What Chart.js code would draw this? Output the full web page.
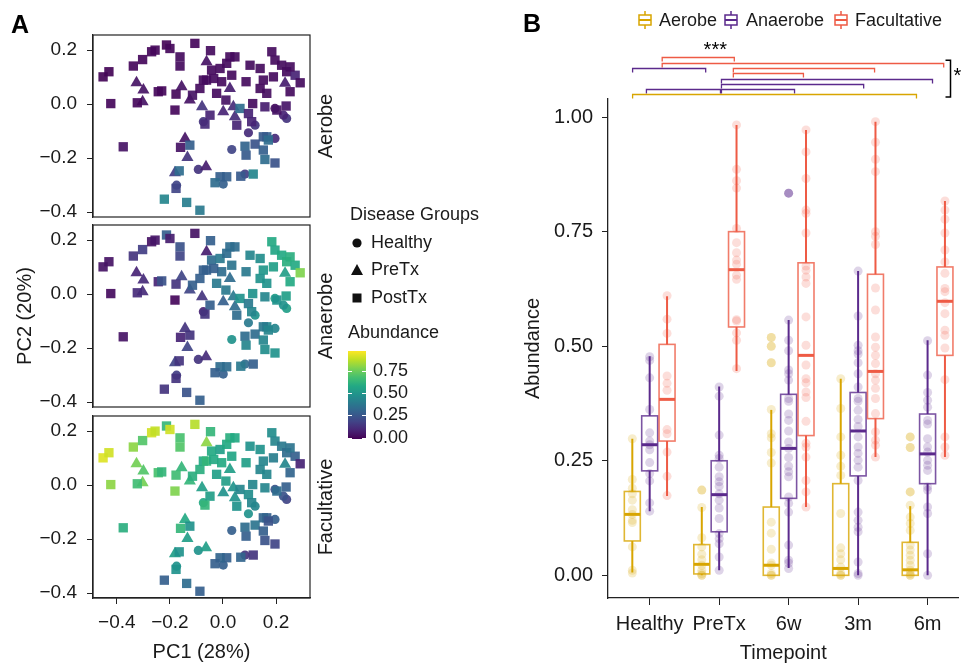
<!DOCTYPE html>
<html>
<head>
<meta charset="utf-8">
<script src="https://cdn.jsdelivr.net/npm/chart.js@4.4.1/dist/chart.umd.min.js"></script>
<style>
  html, body { margin: 0; padding: 0; background: #fff; }
  #wrap { position: relative; width: 963px; height: 666px; overflow: hidden; background: #fff; }
  canvas { position: absolute; }
</style>
</head>
<body>
<div id="wrap">
  <canvas id="facet1" width="520" height="240" style="left:0;top:0"></canvas>
  <canvas id="facet2" width="520" height="270" style="left:0;top:190px"></canvas>
  <canvas id="facet3" width="520" height="286" style="left:0;top:380px"></canvas>
  <canvas id="panelB" width="443" height="666" style="left:520px;top:0"></canvas>
</div>
<script>
// ---- panel A data: PCA coordinates, disease group, per-type abundance ----
const pcaX = [-0.452,-0.43,-0.423,-0.376,-0.338,-0.326,-0.303,-0.323,-0.303,-0.30,
  -0.269,-0.256,-0.244,-0.231,-0.213,-0.2,-0.177,-0.181,-0.162,-0.162,
  -0.156,-0.125,-0.115,-0.106,-0.062,-0.047,-0.087,-0.074,-0.079,-0.049,
  -0.074,-0.068,-0.043,-0.024,-0.011,0.001,0.011,0.014,0.026,0.026,
  0.039,0.045,0.052,0.064,0.033,0.087,0.102,0.096,0.108,0.121,
  0.096,0.112,0.14,0.152,0.158,0.165,0.184,0.196,0.196,0.19,
  0.221,0.234,0.24,0.253,0.238,0.24,0.272,0.291,0.253,0.14,
  0.165,0.152,0.171,0.196,0.121,0.083,0.087,0.033,0.158,0.196,
  0.114,0.083,0.067,0.014,-0.011,-0.03,0.001,-0.125,-0.143,-0.16,
  -0.134,-0.093,-0.064,-0.181,-0.165,-0.175,-0.177,-0.221,-0.137,-0.087,
  -0.005,0.045,0.203,0.228,0.152,-0.062,-0.035];
const pcaY = [0.101,0.12,0.002,-0.158,0.141,0.079,0.165,0.005,0.009,0.052,
  0.194,0.2,0.046,0.049,0.219,0.206,0.037,-0.022,0.175,0.141,
  0.064,0.015,0.033,0.225,0.157,0.198,0.058,0.089,-0.01,-0.041,
  -0.065,-0.074,0.126,0.04,0.132,-0.028,0.015,0.151,0.175,0.058,
  -0.01,-0.047,-0.078,-0.016,0.107,0.083,0.144,-0.035,-0.065,-0.078,
  -0.106,0.002,0.132,0.089,-0.01,0.04,0.194,0.163,-0.016,0.101,
  0.144,0.077,0.12,0.046,-0.007,-0.053,0.107,0.079,0.138,0.058,
  -0.121,-0.121,-0.133,-0.127,-0.148,-0.156,-0.189,-0.168,-0.205,-0.218,
  -0.259,-0.259,-0.267,-0.269,-0.269,-0.291,-0.296,-0.152,-0.127,-0.16,
  -0.198,-0.242,-0.232,-0.254,-0.247,-0.3,-0.312,-0.352,-0.364,-0.393,
  0.083,0.175,-0.022,-0.041,-0.17,0.089,0.095];
const pcaGroup = ['PostTx','PostTx','PostTx','PostTx','PostTx','PreTx','PostTx','PostTx','PreTx','PreTx',
  'PostTx','PostTx','PostTx','PostTx','PostTx','PostTx','PostTx','PostTx','PostTx','PostTx',
  'PreTx','PreTx','PostTx','PostTx','PreTx','PostTx','PostTx','PostTx','PreTx','PostTx',
  'Healthy','PostTx','PostTx','PostTx','PostTx','PreTx','PostTx','PostTx','PostTx','PreTx',
  'PreTx','PreTx','PostTx','PostTx','PostTx','PostTx','PostTx','PostTx','PostTx','Healthy',
  'Healthy','PostTx','PostTx','PostTx','PostTx','PostTx','PostTx','PostTx','Healthy','PostTx',
  'PostTx','PreTx','PostTx','PostTx','PostTx','Healthy','PostTx','PostTx','PostTx','PostTx',
  'PostTx','PostTx','PostTx','Healthy','PostTx','PostTx','PostTx','Healthy','PostTx','PostTx',
  'PostTx','Healthy','PostTx','PostTx','PostTx','PostTx','Healthy','PostTx','PreTx','PostTx',
  'PreTx','Healthy','PreTx','PreTx','PostTx','Healthy','PostTx','PostTx','PostTx','PostTx',
  'PostTx','PostTx','PostTx','Healthy','PostTx','PostTx','PostTx'];
const aerobeAbund = [0.01,0.01,0.02,0.05,0.02,0.05,0.02,0.02,0.05,0.05,
  0.02,0.02,0.02,0.02,0.01,0.02,0.02,0.02,0.03,0.03,
  0.05,0.05,0.05,0.02,0.05,0.03,0.03,0.03,0.15,0.1,
  0.15,0.12,0.03,0.03,0.03,0.1,0.05,0.03,0.03,0.08,
  0.12,0.12,0.1,0.35,0.03,0.03,0.03,0.1,0.1,0.15,
  0.12,0.03,0.03,0.03,0.08,0.04,0.03,0.03,0.04,0.03,
  0.03,0.08,0.03,0.03,0.06,0.15,0.1,0.03,0.03,0.03,
  0.3,0.28,0.35,0.12,0.25,0.32,0.28,0.2,0.35,0.25,
  0.45,0.18,0.28,0.3,0.3,0.35,0.3,0.3,0.05,0.05,
  0.15,0.15,0.08,0.18,0.35,0.2,0.2,0.45,0.42,0.4,
  0.03,0.03,0.05,0.1,0.3,0.03,0.03];
const anaerobeAbund = [0.05,0.05,0.03,0.05,0.15,0.1,0.18,0.12,0.12,0.12,
  0.05,0.06,0.1,0.25,0.3,0.08,0.15,0.02,0.25,0.2,
  0.2,0.2,0.3,0.05,0.08,0.3,0.3,0.3,0.15,0.3,
  0.1,0.15,0.35,0.4,0.4,0.3,0.4,0.35,0.35,0.35,
  0.4,0.35,0.35,0.5,0.38,0.4,0.45,0.4,0.45,0.5,
  0.4,0.5,0.48,0.52,0.45,0.5,0.6,0.58,0.55,0.55,
  0.6,0.55,0.62,0.6,0.55,0.55,0.6,0.8,0.62,0.5,
  0.45,0.4,0.45,0.45,0.35,0.35,0.45,0.5,0.48,0.5,
  0.3,0.35,0.4,0.35,0.35,0.3,0.3,0.15,0.15,0.1,
  0.2,0.15,0.12,0.2,0.15,0.18,0.15,0.15,0.25,0.3,
  0.35,0.35,0.5,0.5,0.45,0.3,0.3];
const facultativeAbund = [0.94,0.92,0.82,0.62,0.82,0.78,0.72,0.68,0.78,0.72,
  0.92,0.9,0.7,0.65,0.65,0.92,0.68,0.8,0.7,0.72,
  0.65,0.65,0.62,0.88,0.82,0.65,0.62,0.6,0.55,0.55,
  0.6,0.65,0.6,0.55,0.55,0.5,0.55,0.6,0.62,0.55,
  0.5,0.5,0.5,0.45,0.58,0.55,0.5,0.48,0.45,0.45,
  0.5,0.45,0.5,0.45,0.45,0.45,0.48,0.45,0.25,0.42,
  0.4,0.45,0.35,0.32,0.3,0.2,0.3,0.1,0.38,0.45,
  0.3,0.32,0.25,0.3,0.38,0.35,0.3,0.3,0.25,0.2,
  0.15,0.15,0.32,0.3,0.32,0.3,0.3,0.5,0.6,0.65,
  0.55,0.5,0.55,0.55,0.5,0.5,0.5,0.3,0.35,0.3,
  0.6,0.6,0.35,0.25,0.3,0.65,0.6];
const pcaTicks = [-0.4, -0.2, 0, 0.2];
const diseaseGroups = ['Healthy', 'PreTx', 'PostTx'];
const abundanceTicks = [0, 0.25, 0.5, 0.75];

// ---- panel B data ----
const timepoints = ['Healthy', 'PreTx', '6w', '3m', '6m'];
const bacteriaTypes = ['Aerobe', 'Anaerobe', 'Facultative'];
// [lower whisker, q1, median, q3, upper whisker] per timepoint
const aerobeStats = [[0.006,0.075,0.133,0.183,0.298],[0,0.003,0.024,0.067,0.149],[0,0,0.022,0.149,0.361],[0,0,0.015,0.2,0.429],[0,0,0.012,0.072,0.151]];
const anaerobeStats = [[0.14,0.228,0.285,0.348,0.478],[0.011,0.095,0.176,0.25,0.412],[0.016,0.168,0.277,0.395,0.557],[0,0.217,0.315,0.399,0.664],[0,0.2,0.265,0.352,0.513]];
const facultativeStats = [[0.173,0.293,0.384,0.504,0.609],[0.446,0.542,0.667,0.75,0.983],[0.149,0.305,0.48,0.682,0.972],[0.258,0.342,0.445,0.657,0.99],[0.258,0.48,0.598,0.673,0.817]];
const aerobePts = [
  [0.298,0.209,0.19,0.178,0.164,0.143,0.133,0.12,0.115,0.062,0.011,0.005],
  [0.186,0.148,0.082,0.062,0.046,0.034,0.022,0.011,0.004,0,0],
  [0.519,0.5,0.464,0.362,0.309,0.3,0.268,0.245,0.116,0.092,0.057,0.027,0.022,0.004,0,0],
  [0.429,0.364,0.302,0.262,0.238,0.218,0.135,0.06,0.047,0.034,0.018,0.004,0,0],
  [0.302,0.279,0.182,0.153,0.127,0.113,0.098,0.066,0.055,0.044,0.033,0.022,0.011,0.004,0,0]];
const anaerobePts = [
  [0.477,0.469,0.431,0.362,0.311,0.293,0.285,0.274,0.246,0.222,0.206,0.158,0.14],
  [0.411,0.391,0.306,0.262,0.255,0.236,0.215,0.204,0.194,0.178,0.164,0.147,0.124,0.091,0.08,0.069,0.04,0.011],
  [0.834,0.557,0.513,0.49,0.448,0.44,0.426,0.386,0.38,0.352,0.338,0.315,0.291,0.277,0.257,0.238,0.226,0.215,0.171,0.157,0.138,0.066,0.033,0.027,0.015],
  [0.664,0.566,0.502,0.49,0.483,0.464,0.44,0.411,0.386,0.38,0.36,0.34,0.325,0.302,0.28,0.266,0.251,0.236,0.207,0.138,0.12,0.105,0.095,0.029,0.004,0],
  [0.512,0.437,0.399,0.382,0.367,0.338,0.33,0.298,0.28,0.269,0.251,0.24,0.229,0.193,0.186,0.149,0.135,0.047,0]];
const facultativePts = [
  [0.61,0.559,0.528,0.435,0.419,0.404,0.318,0.309,0.269,0.216,0.174],
  [0.983,0.886,0.861,0.845,0.757,0.726,0.704,0.688,0.679,0.655,0.646,0.558,0.555,0.529,0.513,0.451],
  [0.972,0.924,0.866,0.797,0.79,0.747,0.675,0.666,0.651,0.637,0.564,0.502,0.459,0.429,0.42,0.4,0.388,0.336,0.288,0.28,0.258,0.207,0.182,0.149],
  [0.99,0.945,0.908,0.881,0.75,0.74,0.722,0.627,0.579,0.52,0.498,0.48,0.462,0.44,0.426,0.408,0.386,0.353,0.313,0.295,0.284,0.258],
  [0.817,0.797,0.777,0.747,0.71,0.684,0.659,0.626,0.619,0.595,0.571,0.535,0.524,0.496,0.427,0.302,0.28,0.262]];
const aerobeOutliers = [[], [0.186], [0.519,0.5,0.464], [], [0.302,0.279,0.182]];
const anaerobeOutliers = [[], [], [0.834], [], []];
const facultativeOutliers = [[], [], [], [], []];
// significance brackets (timepoint units) and their heights (abundance units)
const sigType = ['Facultative','Facultative','Anaerobe','Facultative','Facultative','Anaerobe','Anaerobe','Anaerobe','Anaerobe','Aerobe'];
const sigFrom = [0.18, 0.18, -0.246, 1.204, 1.204, 1.033, 1.033, -0.047, 1.033, -0.246];
const sigTo = [1.218, 4.232, 0.806, 3.237, 2.213, 4.071, 3.08, 1.019, 2.085, 3.84];
const sigLevel = [1.131, 1.118, 1.107, 1.107, 1.096, 1.083, 1.072, 1.061, 1.061, 1.05];

// ---- styling ----
const FONT = '"Liberation Sans", Arial, Helvetica, sans-serif';
Chart.defaults.font.family = FONT;
Chart.defaults.color = '#1a1a1a';
const TEXT = '#1a1a1a';
const typeColor = { Aerobe: [216,165,0], Anaerobe: [91,42,140], Facultative: [238,91,69] };
const outlierAlpha = { Aerobe: 0.2, Anaerobe: 0.42, Facultative: 0.3 };
const rgba = (c, a) => `rgba(${c[0]},${c[1]},${c[2]},${a})`;
const viridisStops = ['#440154','#482475','#414487','#355f8d','#2a788e','#21918c','#22a884','#44bf70','#7ad151','#bddf26','#fde725']
  .map(h => [1, 3, 5].map(i => parseInt(h.substr(i, 2), 16)));
function viridis(t) {
  t = Math.max(0, Math.min(1, t));
  const p = t * 10, i = Math.min(9, Math.floor(p)), f = p - i;
  const a = viridisStops[i], b = viridisStops[i + 1];
  return [0, 1, 2].map(k => Math.round(a[k] + (b[k] - a[k]) * f));
}
const ABUND_MAX = 0.99;
const abundColor = v => rgba(viridis(v / ABUND_MAX), 0.92);
const shapeStyle = { Healthy: 'circle', PreTx: 'triangle', PostTx: 'rect' };
const shapeRadius = { Healthy: 4.6, PreTx: 7, PostTx: 6.6 };
const fmtPc = v => (v < 0 ? '\u2212' : '') + Math.abs(v).toFixed(1);

// ---- plugins ----
const framePlugin = {
  id: 'frame',
  afterDraw(chart) {
    const { ctx, chartArea: a } = chart;
    ctx.save();
    ctx.strokeStyle = '#222';
    ctx.lineWidth = 1.2;
    ctx.strokeRect(a.left, a.top, a.right - a.left, a.bottom - a.top);
    ctx.restore();
  }
};

const stripPlugin = {
  id: 'strip',
  afterDraw(chart, args, opts) {
    const { ctx, chartArea: a } = chart;
    ctx.save();
    ctx.translate(a.right + 16, (a.top + a.bottom) / 2);
    ctx.rotate(-Math.PI / 2);
    ctx.font = '20px ' + FONT;
    ctx.fillStyle = TEXT;
    ctx.textAlign = 'center';
    ctx.textBaseline = 'middle';
    ctx.fillText(opts.text, 0, 0);
    ctx.restore();
  }
};

const letterPlugin = {
  id: 'letter',
  afterDraw(chart, args, opts) {
    const ctx = chart.ctx;
    ctx.save();
    ctx.font = 'bold 25px ' + FONT;
    ctx.fillStyle = '#000';
    ctx.textBaseline = 'alphabetic';
    ctx.fillText(opts.text, opts.x, opts.y);
    ctx.restore();
  }
};

// shape + colour bar legend, drawn on the middle facet canvas (top = 190)
const groupLegendPlugin = {
  id: 'groupLegend',
  afterDraw(chart) {
    const ctx = chart.ctx;
    const oy = 190;
    ctx.save();
    ctx.fillStyle = TEXT;
    ctx.font = '18px ' + FONT;
    ctx.textBaseline = 'middle';
    ctx.fillText('Disease Groups', 350, 215 - oy);
    diseaseGroups.forEach((g, i) => {
      const y = 243 + i * 27.5 - oy;
      ctx.fillStyle = '#111';
      ctx.beginPath();
      if (g === 'Healthy') ctx.arc(357, y, 4.6, 0, Math.PI * 2);
      else if (g === 'PreTx') { ctx.moveTo(357, y - 6.5); ctx.lineTo(363, y + 4.5); ctx.lineTo(351, y + 4.5); ctx.closePath(); }
      else ctx.rect(352.5, y - 4.5, 9, 9);
      ctx.fill();
      ctx.fillStyle = TEXT;
      ctx.fillText(g, 371, y);
    });
    ctx.fillText('Abundance', 348, 333 - oy);
    // colour bar
    const top = 351 - oy, bot = 439 - oy, left = 348, w = 18;
    const grad = ctx.createLinearGradient(0, bot, 0, top);
    for (let k = 0; k <= 20; k++) grad.addColorStop(k / 20, rgba(viridis(k / 20), 1));
    ctx.fillStyle = grad;
    ctx.fillRect(left, top, w, bot - top);
    ctx.strokeStyle = '#fff';
    ctx.lineWidth = 1;
    abundanceTicks.forEach(v => {
      const y = Math.round(bot - (v / ABUND_MAX) * (bot - top) - 1.5) + 0.5;
      ctx.beginPath();
      ctx.moveTo(left, y); ctx.lineTo(left + 4, y);
      ctx.moveTo(left + w - 4, y); ctx.lineTo(left + w, y);
      ctx.stroke();
      ctx.fillStyle = TEXT;
      ctx.fillText(v.toFixed(2), 373, y);
    });
    ctx.restore();
  }
};

function pcaDatasets(abund) {
  return diseaseGroups.map(g => {
    const idx = pcaX.map((_, i) => i).filter(i => pcaGroup[i] === g);
    return {
      label: g,
      data: idx.map(i => ({ x: pcaX[i], y: pcaY[i], a: abund[i] })),
      pointStyle: shapeStyle[g],
      pointRadius: shapeRadius[g],
      borderWidth: 0,
      backgroundColor: c => (c.raw ? abundColor(c.raw.a) : '#000'),
      borderColor: 'rgba(0,0,0,0)'
    };
  }).reverse();
}

function makeFacet(id, abund, cfg) {
  const tickFont = { size: 19 };
  return new Chart(document.getElementById(id), {
    type: 'scatter',
    data: { datasets: pcaDatasets(abund) },
    options: {
      responsive: false,
      animation: false,
      events: [],
      layout: { padding: { top: cfg.top, bottom: cfg.bottom, left: 0, right: 210 } },
      plugins: {
        legend: { display: false },
        tooltip: { enabled: false },
        strip: { text: cfg.strip },
        letter: cfg.letter || { text: '', x: 0, y: 0 }
      },
      scales: {
        x: {
          type: 'linear', min: -0.49, max: 0.328,
          display: cfg.showX,
          afterBuildTicks: s => { s.ticks = pcaTicks.map(v => ({ value: v })); },
          afterFit: s => { s.height = cfg.showX ? 68 : 0; },
          ticks: { callback: fmtPc, font: tickFont, color: TEXT, padding: 7, maxRotation: 0 },
          grid: { display: true, drawOnChartArea: false, drawTicks: true, tickLength: 6, color: '#222' },
          border: { display: true, color: '#222', width: 1.2 },
          title: { display: true, text: 'PC1 (28%)', font: { size: 20 }, color: TEXT, padding: { top: 0, bottom: 2 } }
        },
        y: {
          type: 'linear', min: -0.418, max: 0.256,
          afterBuildTicks: s => { s.ticks = pcaTicks.map(v => ({ value: v })); },
          afterFit: s => { s.width = 93; },
          ticks: { callback: fmtPc, font: tickFont, color: TEXT, padding: 10 },
          grid: { display: true, drawOnChartArea: false, drawTicks: true, tickLength: 6, color: '#222' },
          border: { display: true, color: '#222', width: 1.2 },
          title: { display: !!cfg.yTitle, text: cfg.yTitle || '', font: { size: 20 }, color: TEXT, padding: { top: 13, bottom: 0 } }
        }
      }
    },
    plugins: [framePlugin, stripPlugin, letterPlugin].concat(cfg.extra || [])
  });
}

makeFacet('facet1', aerobeAbund, { top: 35, bottom: 23, showX: false, strip: 'Aerobe', letter: { text: 'A', x: 11, y: 33 } });
makeFacet('facet2', anaerobeAbund, { top: 35, bottom: 53, showX: false, strip: 'Anaerobe', yTitle: 'PC2 (20%)', extra: [groupLegendPlugin] });
makeFacet('facet3', facultativeAbund, { top: 36, bottom: 0, showX: true, strip: 'Facultative' });

// ---- panel B ----
const typeOffset = { Aerobe: -0.25, Anaerobe: 0, Facultative: 0.25 };
const typeStats = { Aerobe: aerobeStats, Anaerobe: anaerobeStats, Facultative: facultativeStats };
const typePts = { Aerobe: aerobePts, Anaerobe: anaerobePts, Facultative: facultativePts };
const typeOut = { Aerobe: aerobeOutliers, Anaerobe: anaerobeOutliers, Facultative: facultativeOutliers };
const BOX_HALF = 0.115;

const boxPlugin = {
  id: 'boxes',
  beforeDatasetsDraw(chart) {
    const { ctx, scales: { x, y } } = chart;
    ctx.save();
    bacteriaTypes.forEach(t => {
      const col = typeColor[t];
      typeStats[t].forEach((s, i) => {
        const cx = x.getPixelForValue(i + typeOffset[t]);
        const hw = x.getPixelForValue(BOX_HALF) - x.getPixelForValue(0);
        const [lo, q1, med, q3, hi] = s.map(v => y.getPixelForValue(v));
        ctx.strokeStyle = rgba(col, 1);
        ctx.lineWidth = 2;
        ctx.beginPath();
        ctx.moveTo(cx, q3); ctx.lineTo(cx, hi);
        ctx.moveTo(cx, q1); ctx.lineTo(cx, lo);
        ctx.stroke();
        ctx.strokeStyle = rgba(col, 0.8);
        ctx.lineWidth = 1.6;
        ctx.strokeRect(cx - hw, q3, hw * 2, q1 - q3);
        ctx.strokeStyle = rgba(col, 1);
        ctx.lineWidth = 3;
        ctx.beginPath();
        ctx.moveTo(cx - hw, med); ctx.lineTo(cx + hw, med);
        ctx.stroke();
      });
    });
    ctx.restore();
  }
};

const bracketPlugin = {
  id: 'brackets',
  afterDraw(chart) {
    const { ctx, scales: { x, y } } = chart;
    ctx.save();
    ctx.lineWidth = 1.3;
    sigType.forEach((t, i) => {
      const x1 = x.getPixelForValue(sigFrom[i]), x2 = x.getPixelForValue(sigTo[i]);
      const yy = Math.round(y.getPixelForValue(sigLevel[i])) + 0.5;
      ctx.strokeStyle = rgba(typeColor[t], 1);
      ctx.beginPath();
      ctx.moveTo(x1, yy + 4); ctx.lineTo(x1, yy); ctx.lineTo(x2, yy); ctx.lineTo(x2, yy + 4);
      ctx.stroke();
    });
    ctx.fillStyle = '#000';
    ctx.font = '20px ' + FONT;
    ctx.textAlign = 'center';
    ctx.textBaseline = 'middle';
    ctx.fillText('***', x.getPixelForValue(0.944), y.getPixelForValue(1.146));
    // right-hand bracket with its star, partly cut by the figure edge
    const bx = x.getPixelForValue(4.33);
    const bt = y.getPixelForValue(1.124), bb = y.getPixelForValue(1.044);
    ctx.strokeStyle = '#000';
    ctx.lineWidth = 1.5;
    ctx.beginPath();
    ctx.moveTo(bx - 5, bt); ctx.lineTo(bx, bt); ctx.lineTo(bx, bb); ctx.lineTo(bx - 5, bb);
    ctx.stroke();
    ctx.textAlign = 'left';
    ctx.fillText('*', bx + 3, (bt + bb) / 2 - 2);
    ctx.restore();
  }
};

const topLegendPlugin = {
  id: 'topLegend',
  afterDraw(chart) {
    const ctx = chart.ctx;
    const ox = 520, cy = 20;
    const glyphX = [645, 731, 841], textX = [659, 746, 855];
    ctx.save();
    ctx.font = '18px ' + FONT;
    ctx.textBaseline = 'middle';
    bacteriaTypes.forEach((t, i) => {
      const gx = glyphX[i] - ox;
      const col = rgba(typeColor[t], 1);
      ctx.strokeStyle = col;
      ctx.lineWidth = 1.5;
      ctx.beginPath();
      ctx.moveTo(gx, cy - 9); ctx.lineTo(gx, cy - 5);
      ctx.moveTo(gx, cy + 5); ctx.lineTo(gx, cy + 9);
      ctx.stroke();
      ctx.strokeRect(gx - 6, cy - 5, 12, 10);
      ctx.lineWidth = 2;
      ctx.beginPath();
      ctx.moveTo(gx - 6, cy); ctx.lineTo(gx + 6, cy);
      ctx.stroke();
      ctx.fillStyle = TEXT;
      ctx.fillText(t, textX[i] - ox, cy + 1);
    });
    ctx.restore();
  }
};

function pointSets() {
  const sets = [];
  bacteriaTypes.forEach(t => {
    sets.push({
      label: t,
      data: typePts[t].flatMap((vals, i) => vals.map(v => ({ x: i + typeOffset[t], y: v }))),
      pointRadius: 4.5,
      borderWidth: 0,
      backgroundColor: rgba(typeColor[t], 0.2),
      borderColor: 'rgba(0,0,0,0)'
    });
    sets.push({
      label: t + ' outliers',
      data: typeOut[t].flatMap((vals, i) => vals.map(v => ({ x: i + typeOffset[t], y: v }))),
      pointRadius: 4.5,
      borderWidth: 0,
      backgroundColor: rgba(typeColor[t], outlierAlpha[t]),
      borderColor: 'rgba(0,0,0,0)'
    });
  });
  return sets;
}

new Chart(document.getElementById('panelB'), {
  type: 'scatter',
  data: { datasets: pointSets() },
  options: {
    responsive: false,
    animation: false,
    events: [],
    layout: { padding: { top: 99, right: 0, bottom: 0, left: 0 } },
    plugins: {
      legend: { display: false },
      tooltip: { enabled: false },
      letter: { text: 'B', x: 3, y: 32 }
    },
    scales: {
      x: {
        type: 'linear', min: -0.6, max: 4.445,
        afterBuildTicks: s => { s.ticks = timepoints.map((_, i) => ({ value: i })); },
        afterFit: s => { s.height = 68; },
        ticks: { callback: v => timepoints[v], font: { size: 20 }, color: TEXT, padding: 7, maxRotation: 0, autoSkip: false },
        grid: { display: true, drawOnChartArea: false, drawTicks: true, tickLength: 7, color: '#222' },
        border: { display: true, color: '#222', width: 1.3 },
        title: { display: true, text: 'Timepoint', font: { size: 20 }, color: TEXT, padding: { top: 0, bottom: 1 } }
      },
      y: {
        type: 'linear', min: -0.0495, max: 1.0395,
        afterBuildTicks: s => { s.ticks = [0, 0.25, 0.5, 0.75, 1].map(v => ({ value: v })); },
        afterFit: s => { s.width = 88; },
        ticks: { callback: v => v.toFixed(2), font: { size: 20 }, color: TEXT, padding: 9 },
        grid: { display: true, drawOnChartArea: false, drawTicks: true, tickLength: 6, color: '#222' },
        border: { display: true, color: '#222', width: 1.3 },
        title: { display: true, text: 'Abundance', font: { size: 20 }, color: TEXT, padding: { top: 1, bottom: 0 } }
      }
    }
  },
  plugins: [boxPlugin, bracketPlugin, topLegendPlugin, letterPlugin]
});
</script>
</body>
</html>
